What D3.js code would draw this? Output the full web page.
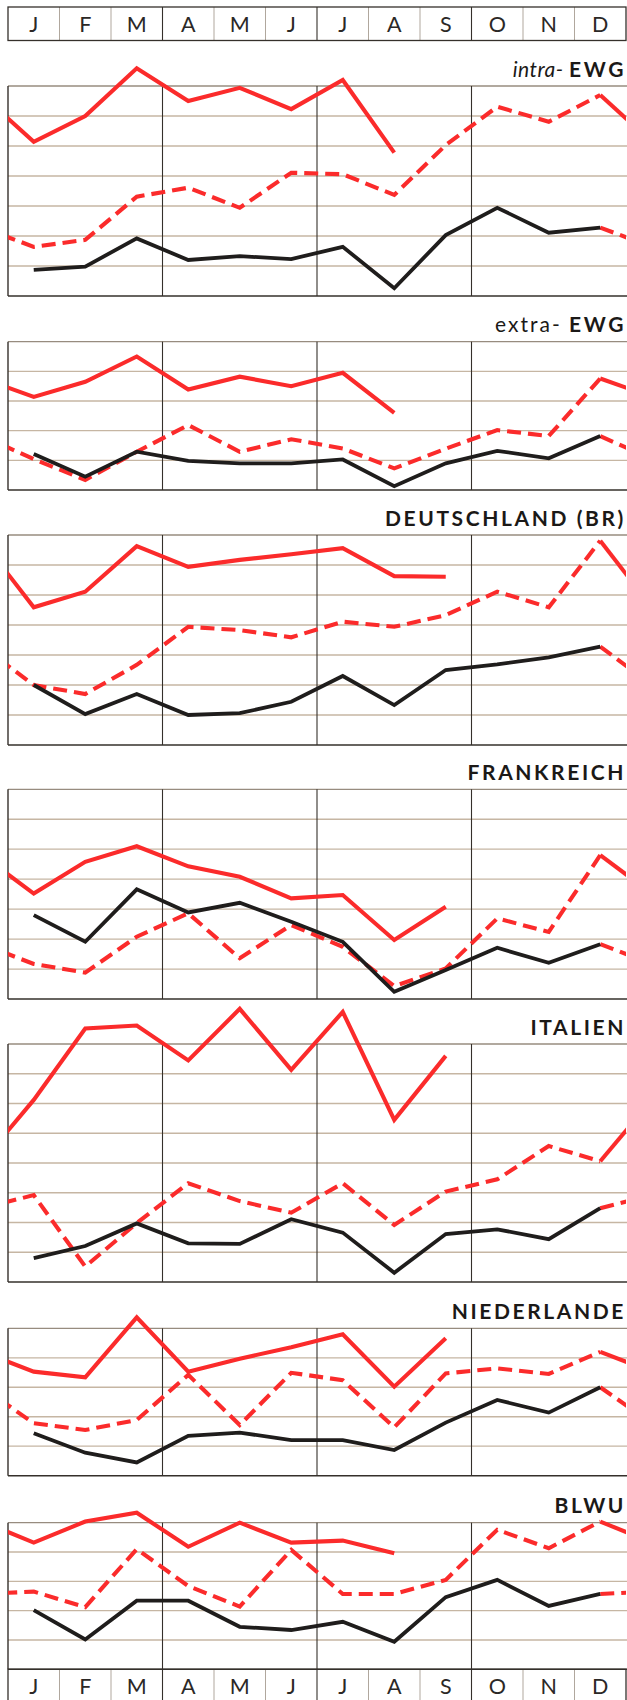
<!DOCTYPE html>
<html>
<head>
<meta charset="utf-8">
<script src="https://cdn.jsdelivr.net/npm/d3@7"></script>
<style>
  html, body { margin: 0; padding: 0; background: #ffffff; }
  svg { display: block; }
</style>
</head>
<body>
<svg id="chart" width="627" height="1700"></svg>
<script>
// Months shown in the header and footer strips
const months = ["J", "F", "M", "A", "M", "J", "J", "A", "S", "O", "N", "D"];

// Values in grid units (one unit = one horizontal rule) for three consecutive years:
// year1 = black solid, year2 = red dashed, year3 = red solid (Jan..Aug/Sep only)
const intraYear1 = [0.87, 0.98, 1.92, 1.20, 1.33, 1.23, 1.64, 0.26, 2.03, 2.94, 2.11, 2.28];
const intraYear2 = [1.64, 1.87, 3.31, 3.61, 2.94, 4.11, 4.06, 3.37, 5.03, 6.31, 5.81, 6.70];
const intraYear3 = [5.14, 6.00, 7.59, 6.50, 6.94, 6.23, 7.20, 4.78];

const extraYear1 = [1.21, 0.45, 1.29, 0.98, 0.90, 0.90, 1.03, 0.13, 0.90, 1.32, 1.07, 1.82];
const extraYear2 = [1.04, 0.34, 1.29, 2.19, 1.29, 1.71, 1.40, 0.73, 1.39, 2.02, 1.82, 3.76];
const extraYear3 = [3.14, 3.65, 4.50, 3.39, 3.82, 3.50, 3.95, 2.60];

const deYear1 = [2.00, 1.03, 1.70, 1.00, 1.06, 1.44, 2.30, 1.33, 2.50, 2.69, 2.92, 3.28];
const deYear2 = [2.00, 1.70, 2.67, 3.94, 3.83, 3.59, 4.11, 3.94, 4.33, 5.11, 4.59, 6.81];
const deYear3 = [4.59, 5.11, 6.63, 5.94, 6.17, 6.36, 6.56, 5.63, 5.61];

const frYear1 = [2.80, 1.91, 3.66, 2.89, 3.21, 2.58, 1.91, 0.24, 0.97, 1.71, 1.21, 1.83];
const frYear2 = [1.17, 0.88, 2.08, 2.86, 1.36, 2.47, 1.74, 0.43, 1.02, 2.69, 2.24, 4.80];
const frYear3 = [3.52, 4.58, 5.10, 4.43, 4.08, 3.36, 3.47, 1.97, 3.08];

const itYear1 = [0.80, 1.21, 1.97, 1.30, 1.28, 2.11, 1.66, 0.31, 1.61, 1.77, 1.44, 2.48];
const itYear2 = [2.92, 0.52, 1.98, 3.32, 2.72, 2.33, 3.32, 1.92, 3.04, 3.45, 4.57, 4.06];
const itYear3 = [6.12, 8.52, 8.62, 7.45, 9.18, 7.13, 9.08, 5.45, 7.60];

const nlYear1 = [1.44, 0.78, 0.45, 1.35, 1.46, 1.21, 1.21, 0.87, 1.80, 2.57, 2.14, 3.00];
const nlYear2 = [1.78, 1.55, 1.89, 3.42, 1.72, 3.49, 3.24, 1.64, 3.47, 3.64, 3.45, 4.20];
const nlYear3 = [3.53, 3.34, 5.37, 3.53, 3.97, 4.36, 4.80, 3.02, 4.66];

const blwuYear1 = [2.02, 1.02, 2.34, 2.34, 1.45, 1.34, 1.62, 0.94, 2.46, 3.05, 2.16, 2.57];
const blwuYear2 = [2.65, 2.12, 4.10, 2.84, 2.14, 4.07, 2.57, 2.57, 3.05, 4.76, 4.13, 5.04];
const blwuYear3 = [4.32, 5.04, 5.34, 4.18, 5.00, 4.32, 4.39, 3.96];

// Panel headings: [light part, bold part, light part italic?]
const panelTitles = [
  ["intra- ", "EWG", true],
  ["extra- ", "EWG", false],
  ["", "DEUTSCHLAND (BR)", false],
  ["", "FRANKREICH", false],
  ["", "ITALIEN", false],
  ["", "NIEDERLANDE", false],
  ["", "BLWU", false]
];
// Number of horizontal rule intervals in each panel
const panelSteps = [7, 5, 7, 7, 8, 5, 5];

const panelSeries = [
  [intraYear1, intraYear2, intraYear3],
  [extraYear1, extraYear2, extraYear3],
  [deYear1, deYear2, deYear3],
  [frYear1, frYear2, frYear3],
  [itYear1, itYear2, itYear3],
  [nlYear1, nlYear2, nlYear3],
  [blwuYear1, blwuYear2, blwuYear3]
];

// ---- layout ----
const X0 = 8, X1 = 626;
const panelTop    = [86, 341.7, 535, 789.3, 1044, 1328.3, 1522.7];
const panelBottom = [296, 490, 745, 999, 1282, 1475.7, 1669.3];
const stripTop = [7, 1669.3];
const stripH = 33.5;

const RED = "#fb2b2b";
const BLACK = "#1f1d1c";
const RULE = "#c6b6a3";
const DARK = "#35302b";

const svg = d3.select("#chart");
const x = d3.scaleLinear().domain([-0.5, 11.5]).range([X0, X1]);
const monthEdge = d3.range(13).map(i => x(i - 0.5));
const FONT = "Lato, 'Open Sans', sans-serif";

// Month strips (top and bottom)
stripTop.forEach((t, si) => {
  const g = svg.append("g");
  g.selectAll("line.div").data(d3.range(1, 12)).join("line")
    .attr("x1", i => monthEdge[i]).attr("x2", i => monthEdge[i])
    .attr("y1", t).attr("y2", t + stripH)
    .attr("stroke", i => (i % 3 === 0 ? DARK : "#a79d92"))
    .attr("stroke-width", i => (i % 3 === 0 ? 1.1 : 0.9));
  g.append("rect")
    .attr("x", X0).attr("y", t).attr("width", X1 - X0).attr("height", stripH)
    .attr("fill", "none").attr("stroke", DARK).attr("stroke-width", 1.3);
  g.selectAll("text").data(months).join("text")
    .attr("x", (d, i) => x(i)).attr("y", t + 25)
    .attr("text-anchor", "middle")
    .attr("font-family", FONT).attr("font-size", 21.5)
    .attr("fill", "#2b2826")
    .text(d => d);
});

// Panels
panelSeries.forEach((series, p) => {
  const top = panelTop[p], bottom = panelBottom[p], steps = panelSteps[p];
  const y = d3.scaleLinear().domain([0, steps]).range([bottom, top]);
  const g = svg.append("g");

  const clipId = "clip" + p;
  svg.append("clipPath").attr("id", clipId)
    .append("rect").attr("x", X0).attr("y", top - 90)
    .attr("width", X1 - X0).attr("height", bottom - top + 100);

  // horizontal rules
  g.selectAll("line.rule").data(d3.range(1, steps)).join("line")
    .attr("x1", X0).attr("x2", X1 + 2)
    .attr("y1", v => y(v)).attr("y2", v => y(v))
    .attr("stroke", RULE).attr("stroke-width", 1.3);
  g.append("line").attr("x1", X0).attr("x2", X1 + 2)
    .attr("y1", top).attr("y2", top)
    .attr("stroke", "#978c7f").attr("stroke-width", 1.3);
  g.append("line").attr("x1", X0).attr("x2", X1 + 2)
    .attr("y1", bottom).attr("y2", bottom)
    .attr("stroke", DARK).attr("stroke-width", 1.4);

  // quarter separators and left edge
  g.selectAll("line.q").data([0, 3, 6, 9]).join("line")
    .attr("x1", i => monthEdge[i]).attr("x2", i => monthEdge[i])
    .attr("y1", top).attr("y2", bottom)
    .attr("stroke", DARK).attr("stroke-width", i => (i === 0 ? 1.4 : 1.1));

  // title
  const [light, bold, italic] = panelTitles[p];
  const title = g.append("text")
    .attr("x", X1).attr("y", top - 9.5)
    .attr("text-anchor", "end")
    .attr("font-family", FONT).attr("font-size", 21)
    .attr("fill", "#1b1917");
  if (light) {
    title.append("tspan").text(light)
      .attr("font-weight", 400)
      .attr("font-style", italic ? "italic" : "normal")
      .attr("letter-spacing", italic ? 0.5 : 2);
  }
  title.append("tspan").text(bold)
    .attr("font-weight", 700).attr("letter-spacing", 2.6);

  const line = d3.line().x(d => x(d[0])).y(d => y(d[1]));
  const lines = g.append("g").attr("clip-path", `url(#${clipId})`);

  const styles = [
    { stroke: BLACK, width: 3.8, dash: null },
    { stroke: RED, width: 4.1, dash: "14,7" },
    { stroke: RED, width: 4.1, dash: null }
  ];

  // draw later years first so the black year sits on top
  [1, 2, 0].forEach(k => {
    const vals = series[k];
    const pts = vals.map((v, i) => [i, v]);
    const st = styles[k];
    const paths = [];
    if (k > 0) {
      const prevDec = series[k - 1][11];
      paths.push([[-1, prevDec]].concat(pts));        // entry from previous December
      paths.push([[11, prevDec], [12, vals[0]]]);      // run-out after previous December
    } else {
      paths.push(pts);
    }
    paths.forEach(d => {
      lines.append("path")
        .attr("d", line(d))
        .attr("fill", "none")
        .attr("stroke", st.stroke)
        .attr("stroke-width", st.width)
        .attr("stroke-linejoin", "miter")
        .attr("stroke-linecap", "butt")
        .attr("stroke-dasharray", st.dash);
    });
  });
});
</script>
</body>
</html>
